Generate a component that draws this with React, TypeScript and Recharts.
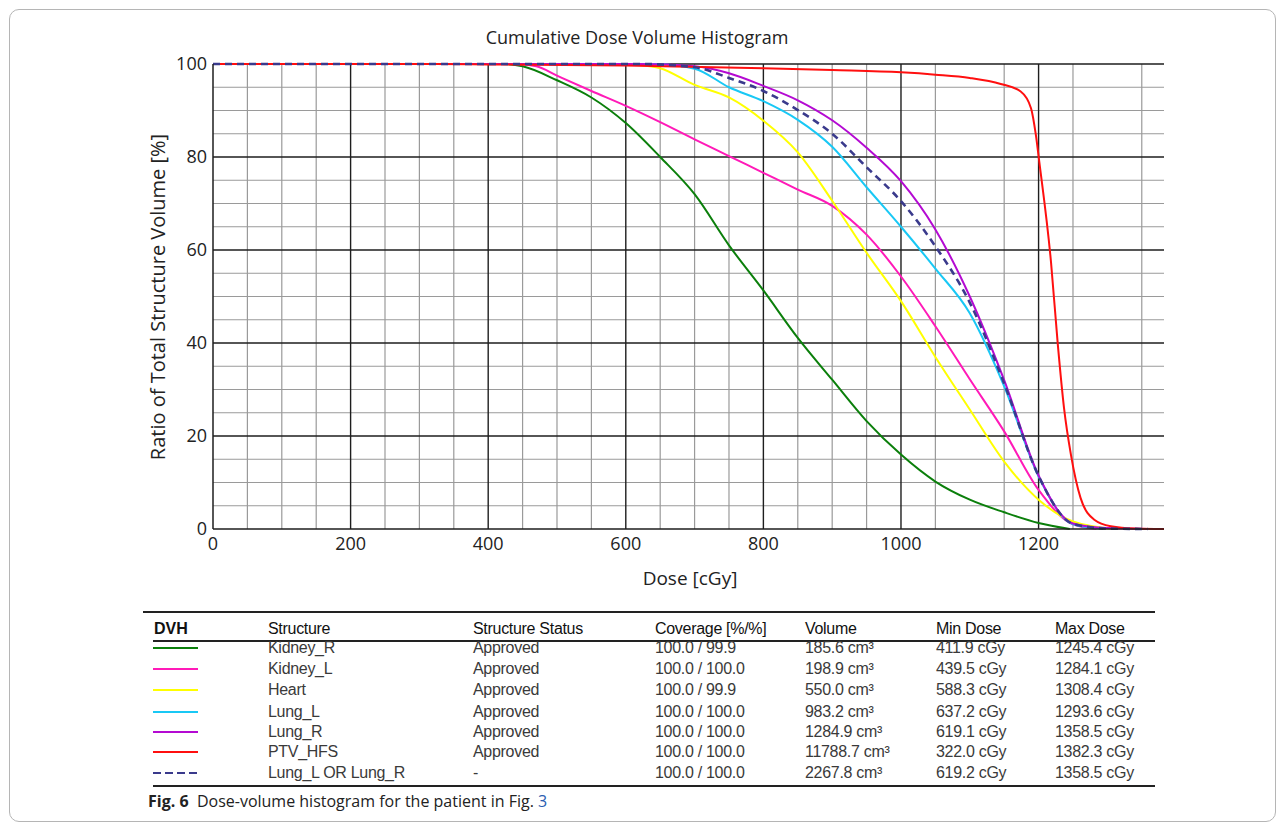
import React from 'react';
import { CartesianGrid, Line, LineChart, XAxis, YAxis } from 'recharts';

// dose [cGy] / volume [%] pairs
const kidneyR = [
  [0, 100], [420, 100], [450, 99.5], [500, 96.5], [550, 92.8], [600, 87.3], [650, 80],
  [700, 72], [750, 61], [800, 51.3], [850, 41.1], [900, 32.1], [950, 23.2], [1000, 16],
  [1050, 10.2], [1100, 6.3], [1150, 3.6], [1200, 1.3], [1245.4, 0],
];
const kidneyL = [
  [0, 100], [440, 100], [470, 99.5], [500, 97.5], [550, 94.2], [600, 91], [650, 87.5],
  [700, 83.8], [750, 80.2], [800, 76.6], [850, 73], [900, 69.5], [950, 63.3], [1000, 54.3],
  [1050, 43.6], [1100, 32.2], [1150, 21], [1200, 8.4], [1250, 1], [1284.1, 0],
];
const heart = [
  [0, 100], [590, 100], [620, 99.8], [650, 99.1], [700, 95.5], [750, 92.8], [800, 87.8],
  [850, 81], [900, 70.6], [950, 59.4], [1000, 49], [1050, 37], [1100, 25.7], [1150, 14.5],
  [1200, 6.3], [1250, 1.6], [1308.4, 0],
];
const lungL = [
  [0, 100], [640, 100], [700, 99], [750, 95], [800, 92], [850, 88], [900, 82.2],
  [950, 73.5], [1000, 65], [1050, 56], [1100, 46.4], [1150, 30.7], [1200, 11.3],
  [1250, 1], [1293.6, 0],
];
const lungR = [
  [0, 100], [620, 100], [700, 99.5], [750, 98], [800, 95.3], [850, 92.2], [900, 87.9],
  [950, 82], [1000, 74.8], [1050, 64.4], [1100, 50], [1150, 32], [1200, 11.5],
  [1250, 1.2], [1300, 0.2], [1358.5, 0],
];
const ptv = [
  [0, 100], [322, 100], [400, 99.9], [600, 99.7], [800, 99.1], [900, 98.7], [1000, 98.2],
  [1050, 97.7], [1100, 97], [1145, 95.7], [1174, 94.1], [1189, 90.5], [1196, 84.8],
  [1201, 79], [1218, 57.5], [1228, 39.6], [1237, 26], [1247, 16], [1261, 6.7],
  [1281, 2], [1305, 0.6], [1340, 0.1], [1382.3, 0],
];
const lungs = [
  [0, 100], [620, 100], [700, 99.3], [750, 97], [800, 94.2], [850, 90.1], [900, 85],
  [950, 77.8], [1000, 70.5], [1050, 60.8], [1100, 48.7], [1150, 31.3], [1200, 11.4],
  [1250, 1.1], [1300, 0.1], [1358.5, 0],
];

const doseTicks = [0, 200, 400, 600, 800, 1000, 1200];
const volumeTicks = [0, 20, 40, 60, 80, 100];
const doseMinor = [50, 100, 150, 250, 300, 350, 450, 500, 550, 650, 700, 750, 850, 900, 950, 1050, 1100, 1150, 1250, 1300, 1350];
const doseMajor = [200, 400, 600, 800, 1000, 1200];
const volumeMinor = [5, 10, 15, 25, 30, 35, 45, 50, 55, 65, 70, 75, 85, 90, 95];
const volumeMajor = [20, 40, 60, 80, 100];

const structures = ['Kidney_R', 'Kidney_L', 'Heart', 'Lung_L', 'Lung_R', 'PTV_HFS', 'Lung_L OR Lung_R'];
const statuses = ['Approved', 'Approved', 'Approved', 'Approved', 'Approved', 'Approved', '-'];
const coverages = ['100.0 / 99.9', '100.0 / 100.0', '100.0 / 99.9', '100.0 / 100.0', '100.0 / 100.0', '100.0 / 100.0', '100.0 / 100.0'];
const volumes = ['185.6 cm³', '198.9 cm³', '550.0 cm³', '983.2 cm³', '1284.9 cm³', '11788.7 cm³', '2267.8 cm³'];
const minDoses = ['411.9 cGy', '439.5 cGy', '588.3 cGy', '637.2 cGy', '619.1 cGy', '322.0 cGy', '619.2 cGy'];
const maxDoses = ['1245.4 cGy', '1284.1 cGy', '1308.4 cGy', '1293.6 cGy', '1358.5 cGy', '1382.3 cGy', '1358.5 cGy'];

const colors = ['#0b7f0b', '#ff1ab8', '#ffff00', '#19c8f5', '#b40ad2', '#ff0f0f', '#3a3a8c'];
const seriesData = [kidneyR, kidneyL, heart, lungL, lungR, ptv, lungs];

const toRows = (pts: number[][]) => pts.map(([dose, vol]) => ({ dose, vol }));

const font = '"Open Sans", "Noto Sans", sans-serif';
const tableFont = '"Liberation Sans", Arial, sans-serif';

const colX = [268, 473, 655, 805, 936, 1055];
const headers = ['Structure', 'Structure Status', 'Coverage [%/%]', 'Volume', 'Min Dose', 'Max Dose'];
const rowY = [648, 669, 690, 712, 732, 752, 773];

function DvhChart() {
  return (
    <LineChart width={1284} height={600} margin={{ top: 64, right: 120, bottom: 31, left: 0 }}>
      <CartesianGrid
        horizontalValues={volumeMinor}
        verticalValues={doseMinor}
        stroke="#9a9a9a"
        strokeWidth={1.2}
      />
      <CartesianGrid
        horizontalValues={volumeMajor}
        verticalValues={doseMajor}
        stroke="#1e1e1e"
        strokeWidth={1.4}
      />
      <XAxis
        type="number"
        dataKey="dose"
        domain={[0, 1382.3]}
        ticks={doseTicks}
        height={40}
        tickLine={false}
        axisLine={{ stroke: '#1e1e1e', strokeWidth: 1.5 }}
        tick={{ fill: '#222', fontSize: 18, fontFamily: font }}
        allowDataOverflow
      />
      <YAxis
        type="number"
        domain={[0, 100]}
        ticks={volumeTicks}
        width={213}
        tickLine={false}
        tickMargin={0}
        axisLine={{ stroke: '#1e1e1e', strokeWidth: 1.5 }}
        tick={{ fill: '#222', fontSize: 18, fontFamily: font }}
      />
      {seriesData.map((pts, i) => (
        <Line
          key={structures[i]}
          data={toRows(pts)}
          dataKey="vol"
          type="monotone"
          stroke={colors[i]}
          strokeWidth={i === 6 ? 2.6 : 2}
          strokeDasharray={i === 6 ? '7 5' : undefined}
          dot={false}
          activeDot={false}
          isAnimationActive={false}
        />
      ))}
    </LineChart>
  );
}

export default function App() {
  const abs = (left: number, top: number): React.CSSProperties => ({ position: 'absolute', left, top, whiteSpace: 'nowrap' });
  return (
    <div style={{ position: 'absolute', left: 0, top: 0, width: 1284, height: 829, background: '#fff', overflow: 'hidden' }}>
      <div style={{ position: 'absolute', left: 9, top: 9, width: 1265, height: 811, border: '1px solid #b5b5b5', borderRadius: 10 }} />
      <div style={{ position: 'absolute', left: 0, top: 0 }}>
        <DvhChart />
      </div>
      <div style={{ ...abs(637, 37), transform: 'translate(-50%, -50%)', fontFamily: font, fontSize: 18, color: '#222' }}>
        Cumulative Dose Volume Histogram
      </div>
      <div style={{ ...abs(157, 297), transform: 'translate(-50%, -50%) rotate(-90deg)', fontFamily: font, fontSize: 20, color: '#222' }}>
        Ratio of Total Structure Volume [%]
      </div>
      <div style={{ ...abs(690, 578), transform: 'translate(-50%, -50%)', fontFamily: font, fontSize: 19, color: '#222' }}>
        Dose [cGy]
      </div>

      {/* table */}
      <div style={{ position: 'absolute', left: 143, top: 611, width: 1012, height: 2, background: '#222' }} />
      <div style={{ position: 'absolute', left: 153, top: 640, width: 1002, height: 2, background: '#222' }} />
      <div style={{ position: 'absolute', left: 153, top: 785, width: 1002, height: 2, background: '#222' }} />
      <div style={{ ...abs(154, 629), transform: 'translateY(-50%)', fontFamily: tableFont, fontSize: 16, fontWeight: 700, color: '#111' }}>DVH</div>
      {headers.map((h, j) => (
        <div key={h} style={{ ...abs(colX[j], 629), transform: 'translateY(-50%)', fontFamily: tableFont, fontSize: 16, color: '#111', letterSpacing: -0.3 }}>
          {h}
        </div>
      ))}
      {structures.map((s, i) => {
        const cells = [s, statuses[i], coverages[i], volumes[i], minDoses[i], maxDoses[i]];
        return (
          <React.Fragment key={s}>
            <svg style={{ position: 'absolute', left: 153, top: rowY[i] - 4 }} width={46} height={8}>
              <line x1={0} y1={4} x2={45} y2={4} stroke={colors[i]} strokeWidth={2} strokeDasharray={i === 6 ? '8 4' : undefined} />
            </svg>
            {cells.map((c, j) => (
              <div key={j} style={{ ...abs(colX[j], rowY[i]), transform: 'translateY(-50%)', fontFamily: tableFont, fontSize: 16, color: '#3a3a3a', letterSpacing: -0.3 }}>
                {c}
              </div>
            ))}
          </React.Fragment>
        );
      })}

      <div style={{ ...abs(148, 801), transform: 'translateY(-50%)', fontFamily: font, fontSize: 16, color: '#222' }}>
        <b>Fig. 6</b>&nbsp; Dose-volume histogram for the patient in Fig. <span style={{ color: '#2a5db0' }}>3</span>
      </div>
    </div>
  );
}
